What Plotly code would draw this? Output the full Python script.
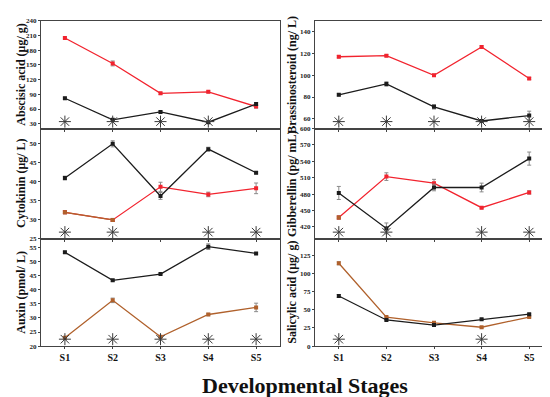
import plotly.graph_objects as go
from plotly.subplots import make_subplots

stages = ["S1", "S2", "S3", "S4", "S5"]
xpos = [1, 2, 3, 4, 5]

# Abscisic acid
aba_black = [82, 38, 54, 33, 70]
aba_black_err = [2, 2, 2, 2, 3]
aba_red = [205, 153, 92, 95, 65]
aba_red_err = [2, 5, 2, 2, 3]
aba_star = [1, 1, 1, 1, 0]
# Brassinosteroid
br_black = [82, 92, 71, 58, 63]
br_black_err = [1, 2, 2, 1, 4]
br_red = [117, 118, 100, 126, 97]
br_red_err = [1, 1, 1, 1, 1]
br_star = [1, 1, 1, 1, 1]
# Cytokinin
ck_black = [41.0, 50.0, 36.3, 48.6, 42.4]
ck_black_err = [0.5, 0.8, 0.9, 0.5, 0.3]
ck_red = [32.0, 30.0, 38.7, 36.7, 38.3]
ck_red_err = [0.4, 0.4, 1.2, 0.6, 1.4]
ck_star = [1, 1, 0, 1, 1]
# Gibberellin
ga_black = [482, 417, 492, 492, 545]
ga_black_err = [12, 10, 6, 8, 12]
ga_red = [437, 512, 500, 455, 483]
ga_red_err = [3, 7, 7, 2, 3]
ga_star = [1, 1, 0, 1, 1]
# Auxin
aux_black = [53.2, 43.3, 45.5, 55.2, 52.8]
aux_black_err = [0.4, 0.3, 0.3, 1.0, 0.3]
aux_red = [23.0, 36.2, 23.3, 31.2, 33.7]
aux_red_err = [0.3, 0.8, 0.3, 0.4, 1.5]
aux_star = [1, 1, 1, 1, 1]
# Salicylic acid
sa_black = [69, 36, 29, 37, 44]
sa_black_err = [2, 1, 1, 1, 1]
sa_red = [114, 40, 32, 26, 40]
sa_red_err = [2, 1, 1, 1, 1]
sa_star = [1, 0, 0, 1, 0]

BLACK = "#1c1c1c"
RED = "#f2232e"
BROWN = "#b0612c"
ERR = "#8a8a8a"
STAR = "#3a3a3a"
FONT = "Liberation Serif"

fig = make_subplots(rows=3, cols=2)

panels = [
    (1, 1, aba_black, aba_black_err, aba_red, aba_red_err, aba_star, "Abscisic acid (μg/ g)", [20, 240], 30, "red"),
    (1, 2, br_black, br_black_err, br_red, br_red_err, br_star, "Brassinosteroid (ng/ L)", [51, 150], 20, "red"),
    (2, 1, ck_black, ck_black_err, ck_red, ck_red_err, ck_star, "Cytokinin (μg/ L)", [24.9, 54], 5, "ck"),
    (2, 2, ga_black, ga_black_err, ga_red, ga_red_err, ga_star, "Gibberellin (pg/ mL)", [397, 600], 30, "ga"),
    (3, 1, aux_black, aux_black_err, aux_red, aux_red_err, aux_star, "Auxin (pmol/ L)", [20, 57.8], 5, "brown"),
    (3, 2, sa_black, sa_black_err, sa_red, sa_red_err, sa_star, "Salicylic acid (μg/ g)", [0, 147], 25, "brown"),
]

xdom = {1: [33 / 550, 272 / 550], 2: [307 / 550, 545 / 550]}
ydom = {1: [1 - 119 / 397, 1 - 9 / 397], 2: [1 - 232 / 397, 1 - 119 / 397], 3: [1 - 341 / 397, 1 - 232 / 397]}

annotations = []
for (r, c, bk, bke, rd, rde, star, title, yr, dt, mode) in panels:
    red_col = BROWN if mode == "brown" else RED
    fig.add_trace(go.Scatter(
        x=xpos, y=rd, mode="lines+markers",
        line=dict(color=red_col, width=1.3),
        marker=dict(symbol="square", size=4, color=red_col),
        error_y=dict(type="data", array=rde, color=ERR, thickness=1, width=2),
        showlegend=False), row=r, col=c)
    if mode == "ck":
        fig.add_trace(go.Scatter(
            x=xpos[:2], y=rd[:2], mode="lines+markers",
            line=dict(color=BROWN, width=1.3),
            marker=dict(symbol="square", size=4, color=BROWN),
            showlegend=False), row=r, col=c)
    if mode == "ga":
        fig.add_trace(go.Scatter(
            x=xpos[:1], y=rd[:1], mode="markers",
            marker=dict(symbol="square", size=4, color=BROWN),
            showlegend=False), row=r, col=c)
    fig.add_trace(go.Scatter(
        x=xpos, y=bk, mode="lines+markers",
        line=dict(color=BLACK, width=1.3),
        marker=dict(symbol="square", size=4, color=BLACK),
        error_y=dict(type="data", array=bke, color=ERR, thickness=1, width=2),
        showlegend=False), row=r, col=c)

    # significance asterisks near the bottom of each panel
    sx = [xi for xi, s in zip(xpos, star) if s]
    sy = [yr[0] + 0.065 * (yr[1] - yr[0])] * len(sx)
    fig.add_trace(go.Scatter(
        x=sx, y=sy, mode="markers",
        marker=dict(symbol="asterisk-open", size=10, color=STAR,
                    line=dict(color=STAR, width=1.0)),
        showlegend=False, hoverinfo="skip"), row=r, col=c)

    fig.update_yaxes(range=yr, dtick=dt, tick0=0, row=r, col=c,
                     domain=ydom[r], showgrid=False, zeroline=False,
                     showline=True, mirror=True, linecolor="#444444", linewidth=1,
                     ticks="outside", ticklen=2, tickcolor="#444444",
                     tickfont=dict(family=FONT, size=7, color="#222222", weight="bold"))
    fig.update_xaxes(range=[0.5, 5.5], tickvals=xpos,
                     ticktext=stages if r == 3 else [""] * 5,
                     row=r, col=c, domain=xdom[c], showgrid=False, zeroline=False,
                     showline=True, mirror=True, linecolor="#444444", linewidth=1,
                     ticks="outside", ticklen=2, tickcolor="#444444",
                     ticklabelstandoff=0,
                     tickfont=dict(family=FONT, size=10, color="#111111", weight="bold"))
    tx = 13 / 550 if c == 1 else 284 / 550
    ymid = (ydom[r][0] + ydom[r][1]) / 2
    annotations.append(dict(
        x=tx, y=ymid, xref="paper", yref="paper", text=f"<b>{title}</b>",
        textangle=-90, showarrow=False, xanchor="center", yanchor="middle",
        font=dict(family=FONT, size=12, color="#111111")))

annotations.append(dict(
    x=297 / 550, y=1 - 381 / 397, xref="paper", yref="paper",
    text="<b>Developmental Stages</b>", showarrow=False,
    xanchor="center", yanchor="middle",
    font=dict(family=FONT, size=22, color="#111111")))

fig.update_layout(
    width=550, height=397, margin=dict(l=0, r=0, t=0, b=0),
    paper_bgcolor="white", plot_bgcolor="white",
    annotations=annotations, font=dict(family=FONT))

fig.write_html("out.html")
